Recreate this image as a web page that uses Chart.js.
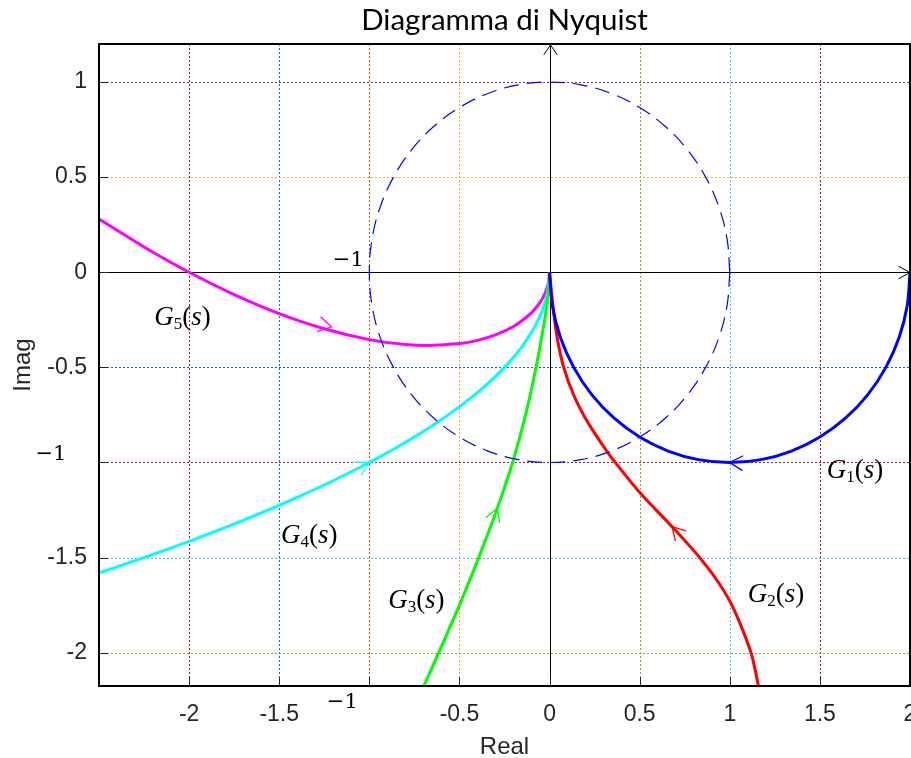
<!DOCTYPE html>
<html>
<head>
<meta charset="utf-8">
<script src="https://cdn.jsdelivr.net/npm/chart.js@4.4.1/dist/chart.umd.min.js"></script>
<style>
  html, body { margin: 0; padding: 0; background: #fff; }
</style>
</head>
<body>
<canvas id="nyq" width="911" height="758"></canvas>
<script>
// ---- data (real / imag parts) ----
const circleRe = [1, 0.985, 0.940, 0.866, 0.766, 0.643, 0.5, 0.342, 0.174, 0, -0.174, -0.342, -0.5, -0.643, -0.766, -0.866, -0.940, -0.985, -1,
                  -0.985, -0.940, -0.866, -0.766, -0.643, -0.5, -0.342, -0.174, 0, 0.174, 0.342, 0.5, 0.643, 0.766, 0.866, 0.940, 0.985, 1];
const circleIm = [0, 0.174, 0.342, 0.5, 0.643, 0.766, 0.866, 0.940, 0.985, 1, 0.985, 0.940, 0.866, 0.766, 0.643, 0.5, 0.342, 0.174, 0,
                  -0.174, -0.342, -0.5, -0.643, -0.766, -0.866, -0.940, -0.985, -1, -0.985, -0.940, -0.866, -0.766, -0.643, -0.5, -0.342, -0.174, 0];

const g1Re = [2, 1.985, 1.940, 1.866, 1.766, 1.643, 1.5, 1.342, 1.174, 1, 0.826, 0.658, 0.5, 0.357, 0.234, 0.134, 0.060, 0.015, 0];
const g1Im = [0, -0.174, -0.342, -0.5, -0.643, -0.766, -0.866, -0.940, -0.985, -1, -0.985, -0.940, -0.866, -0.766, -0.643, -0.5, -0.342, -0.174, 0];

const g2Re = [0, 0.017, 0.041, 0.078, 0.137, 0.215, 0.322, 0.363, 0.503, 0.679, 0.836, 0.926, 1.002, 1.063, 1.117, 1.14, 1.16];
const g2Im = [0, -0.161, -0.337, -0.498, -0.652, -0.793, -0.947, -0.998, -1.161, -1.337, -1.503, -1.615, -1.732, -1.86, -1.998, -2.086, -2.18];

const g3Re = [0, -0.006, -0.027, -0.075, -0.133, -0.205, -0.293, -0.393, -0.5, -0.615, -0.7];
const g3Im = [0, -0.1, -0.25, -0.5, -0.75, -1, -1.25, -1.5, -1.75, -2, -2.18];

const g4Re = [0, -0.01, -0.04, -0.09, -0.16, -0.25, -0.36, -0.49, -0.64, -0.81, -1, -1.21, -1.44, -1.69, -1.96, -2.25, -2.5];
const g4Im = [0, -0.1, -0.2, -0.3, -0.4, -0.5, -0.6, -0.7, -0.8, -0.9, -1, -1.1, -1.2, -1.3, -1.4, -1.5, -1.58];

const g5Re = [-2.5, -2.25, -2, -1.75, -1.5, -1.25, -1, -0.8, -0.667, -0.5, -0.4, -0.3, -0.2, -0.12, -0.08, -0.04, -0.02, -0.005, 0];
const g5Im = [0.28, 0.133, 0, -0.117, -0.217, -0.297, -0.354, -0.38, -0.385, -0.375, -0.358, -0.329, -0.285, -0.23, -0.192, -0.139, -0.099, -0.05, 0];

// arrow tips on each curve and a point further along the direction of travel
const arrowTipRe = [1, 0.679, -0.29, -1.0, -1.21];
const arrowTipIm = [-1, -1.337, -1.24, -1.0, -0.288];
const arrowToRe  = [0.9, 0.599, -0.255, -0.9025, -1.1];
const arrowToIm  = [-0.995, -1.257, -1.15, -0.95, -0.313];

// G_k(s) labels: centre x, baseline y (data units)
const labelRe = [1.695, 1.257, -0.739, -1.333, -2.037];
const labelIm = [-1.081, -1.731, -1.765, -1.423, -0.275];

const curveColors = ['#0000ff', '#ff0000', '#00ff00', '#00ffff', '#ff00ff'];

// dotted grid colours (matlab colour order)
const xGridVals = [-2, -1.5, -1, -0.5, 0, 0.5, 1, 1.5];
const xGridCols = ['#a2142f', '#0072bd', '#d95319', '#edb120', '#7e2f8e', '#77ac30', '#4dbeee', '#a2142f'];
const yGridVals = [-2, -1.5, -1, -0.5, 0, 0.5, 1];
const yGridCols = ['#77ac30', '#4dbeee', '#a2142f', '#0072bd', '#d95319', '#edb120', '#7e2f8e'];

function toXY(re, im) {
  return re.map((r, i) => ({x: r, y: im[i]}));
}
function tickText(v) {
  const r = Math.round(v * 10) / 10;
  if (r === -1 || r === -2.5) return '';
  return String(r);
}

const tickFont = {family: '"Liberation Sans", Arial, sans-serif', size: 23};
const gray = '#262626';

function arrowHead(ctx, tx, ty, ang, len, spread) {
  ctx.beginPath();
  ctx.moveTo(tx - len * Math.cos(ang - spread), ty - len * Math.sin(ang - spread));
  ctx.lineTo(tx, ty);
  ctx.lineTo(tx - len * Math.cos(ang + spread), ty - len * Math.sin(ang + spread));
  ctx.stroke();
}

function mathLabel(ctx, k, cx, by) {
  const parts = [
    ['italic 27px "Liberation Serif"', 'G', 0],
    ['17px "Liberation Serif"', String(k), 4],
    ['27px "Liberation Serif"', '(', 0],
    ['italic 27px "Liberation Serif"', 's', 0],
    ['27px "Liberation Serif"', ')', 0]
  ];
  let w = 0;
  parts.forEach(p => { ctx.font = p[0]; w += ctx.measureText(p[1]).width; });
  let x = cx - w / 2;
  ctx.fillStyle = '#000';
  ctx.textAlign = 'left';
  ctx.textBaseline = 'alphabetic';
  parts.forEach(p => {
    ctx.font = p[0];
    ctx.fillText(p[1], x, by + p[2]);
    x += ctx.measureText(p[1]).width;
  });
}

const decor = {
  id: 'decor',
  beforeDatasetsDraw(chart) {
    const {ctx, chartArea: a, scales: {x, y}} = chart;
    ctx.save();
    // dotted coloured grid
    ctx.lineWidth = 1;
    ctx.setLineDash([2, 2]);
    xGridVals.forEach((v, i) => {
      const px = Math.round(x.getPixelForValue(v)) + 0.5;
      ctx.strokeStyle = xGridCols[i];
      ctx.beginPath(); ctx.moveTo(px, a.top); ctx.lineTo(px, a.bottom); ctx.stroke();
    });
    yGridVals.forEach((v, i) => {
      const py = Math.round(y.getPixelForValue(v)) + 0.5;
      ctx.strokeStyle = yGridCols[i];
      ctx.beginPath(); ctx.moveTo(a.left, py); ctx.lineTo(a.right, py); ctx.stroke();
    });
    ctx.setLineDash([]);
    // real and imaginary axes with arrows
    const x0 = Math.round(x.getPixelForValue(0)) + 0.5, y0 = Math.round(y.getPixelForValue(0)) + 0.5;
    ctx.strokeStyle = '#000';
    ctx.beginPath(); ctx.moveTo(a.left, y0); ctx.lineTo(a.right, y0); ctx.stroke();
    arrowHead(ctx, a.right, y0, 0, 13, 0.5);
    ctx.beginPath(); ctx.moveTo(x0, a.bottom); ctx.lineTo(x0, a.top); ctx.stroke();
    arrowHead(ctx, x0, a.top + 1, -Math.PI / 2, 12, 0.6);
    ctx.restore();
  },
  afterDatasetsDraw(chart) {
    const {ctx, chartArea: a, scales: {x, y}} = chart;
    ctx.save();
    // box
    ctx.strokeStyle = '#000';
    ctx.lineWidth = 2;
    ctx.strokeRect(a.left, a.top, a.right - a.left, a.bottom - a.top);
    // inner tick marks
    ctx.strokeStyle = gray;
    ctx.lineWidth = 1;
    x.ticks.forEach(t => {
      if (t.value <= -2.5 || t.value >= 2) return;
      const px = Math.round(x.getPixelForValue(t.value)) + 0.5;
      ctx.beginPath(); ctx.moveTo(px, a.bottom); ctx.lineTo(px, a.bottom - 9); ctx.stroke();
    });
    y.ticks.forEach(t => {
      const py = Math.round(y.getPixelForValue(t.value)) + 0.5;
      ctx.beginPath(); ctx.moveTo(a.left, py); ctx.lineTo(a.left + 9, py); ctx.stroke();
    });
    // direction arrows on the curves
    ctx.lineWidth = 1.3;
    arrowTipRe.forEach((r, i) => {
      const tx = x.getPixelForValue(r), ty = y.getPixelForValue(arrowTipIm[i]);
      const ux = x.getPixelForValue(arrowToRe[i]), uy = y.getPixelForValue(arrowToIm[i]);
      ctx.strokeStyle = curveColors[i];
      arrowHead(ctx, tx, ty, Math.atan2(uy - ty, ux - tx), 15, 0.52);
    });
    // curve labels
    labelRe.forEach((r, i) => {
      mathLabel(ctx, i + 1, x.getPixelForValue(r), y.getPixelForValue(labelIm[i]));
    });
    // the -1 marks in serif
    ctx.font = '21px "DejaVu Serif"';
    ctx.fillStyle = '#000';
    ctx.textAlign = 'center';
    ctx.textBaseline = 'middle';
    const xm1 = x.getPixelForValue(-1), ym1 = y.getPixelForValue(-1);
    ctx.fillText('\u22121', xm1 - 21, y.getPixelForValue(0) - 12);
    ctx.fillText('\u22121', xm1 - 27, a.bottom + 17);
    ctx.fillText('\u22121', 51, ym1 - 8);
    ctx.restore();
  }
};

function curve(re, im, col) {
  return {
    data: toXY(re, im),
    showLine: true,
    borderColor: col,
    borderWidth: 3,
    pointRadius: 0,
    tension: 0.3,
    fill: false
  };
}

const datasets = [
  {
    data: toXY(circleRe, circleIm),
    showLine: true,
    borderColor: '#0000ff',
    borderWidth: 1.2,
    borderDash: [15, 8],
    pointRadius: 0,
    tension: 0.4,
    fill: false
  },
  curve(g1Re, g1Im, curveColors[0]),
  curve(g2Re, g2Im, curveColors[1]),
  curve(g3Re, g3Im, curveColors[2]),
  curve(g4Re, g4Im, curveColors[3]),
  curve(g5Re, g5Im, curveColors[4])
];

new Chart(document.getElementById('nyq'), {
  type: 'scatter',
  data: {datasets: datasets},
  options: {
    responsive: false,
    animation: false,
    devicePixelRatio: 1,
    layout: {padding: {left: 0, right: 1, top: 0, bottom: 0}},
    plugins: {legend: {display: false}, tooltip: {enabled: false}, title: {display: false}},
    scales: {
      x: {
        type: 'linear', position: 'bottom', min: -2.5, max: 2,
        ticks: {stepSize: 0.5, includeBounds: false, padding: 15, color: gray, font: tickFont,
                maxRotation: 0, autoSkip: false, callback: v => tickText(v)},
        grid: {display: false, drawTicks: false},
        border: {display: false},
        title: {display: true, text: 'Real', color: gray,
                font: {family: '"Liberation Sans", Arial, sans-serif', size: 24, lineHeight: 0.9}, padding: 0},
        afterFit: s => { s.height = 72; s.paddingLeft = 0; s.paddingRight = 0; }
      },
      top: {
        type: 'linear', position: 'top', min: -2.5, max: 2,
        ticks: {display: false},
        grid: {display: false, drawTicks: false},
        border: {display: false},
        title: {display: true, text: 'Diagramma di Nyquist', color: '#000',
                font: {family: 'Lato, sans-serif', size: 29.5, lineHeight: 1.2}, padding: {top: 3, bottom: 0}},
        afterFit: s => { s.height = 44; s.paddingLeft = 0; s.paddingRight = 0; }
      },
      y: {
        type: 'linear', position: 'left', min: -2.175, max: 1.2,
        ticks: {stepSize: 0.5, includeBounds: false, padding: 12, color: gray, font: tickFont,
                callback: v => tickText(v)},
        grid: {display: false, drawTicks: false},
        border: {display: false},
        title: {display: true, text: 'Imag', color: gray,
                font: {family: '"Liberation Sans", Arial, sans-serif', size: 24, lineHeight: 1.2}, padding: {top: 9, bottom: 0}},
        afterFit: s => { s.width = 99; s.paddingTop = 0; s.paddingBottom = 0; }
      }
    }
  },
  plugins: [decor]
});
</script>
</body>
</html>
